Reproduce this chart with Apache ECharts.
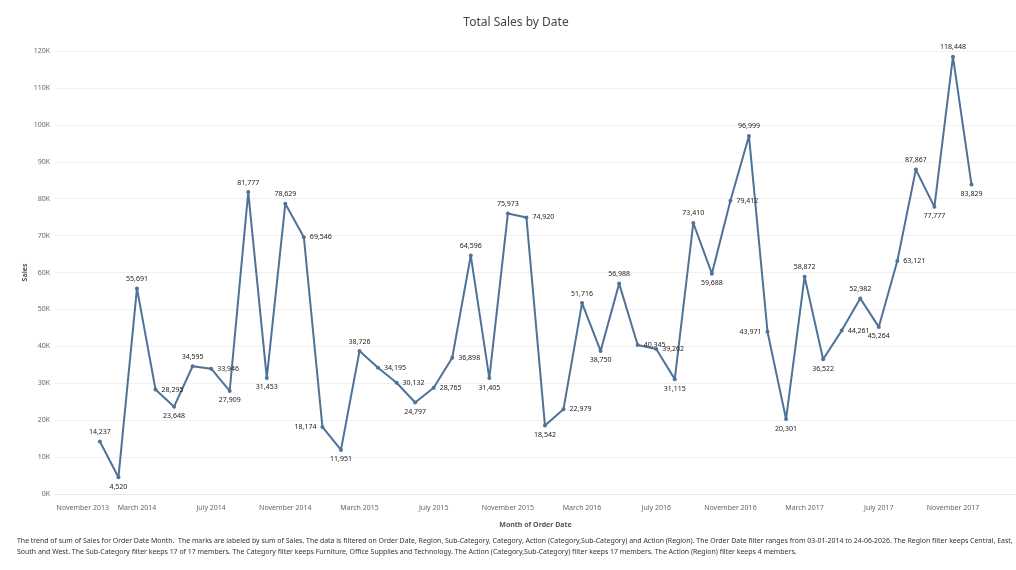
<!DOCTYPE html>
<html>
<head>
<meta charset="utf-8">
<script src="https://cdn.jsdelivr.net/npm/echarts@6/dist/echarts.min.js"></script>
<style>
html,body{margin:0;padding:0;background:#fff;}
#chart{width:1016px;height:570px;}
</style>
</head>
<body>
<div id="chart"></div>
<script>
// Months Jan 2014 .. Dec 2017 (index 0 = January 2014)
const months = [
  'January 2014','February 2014','March 2014','April 2014','May 2014','June 2014','July 2014','August 2014','September 2014','October 2014','November 2014','December 2014',
  'January 2015','February 2015','March 2015','April 2015','May 2015','June 2015','July 2015','August 2015','September 2015','October 2015','November 2015','December 2015',
  'January 2016','February 2016','March 2016','April 2016','May 2016','June 2016','July 2016','August 2016','September 2016','October 2016','November 2016','December 2016',
  'January 2017','February 2017','March 2017','April 2017','May 2017','June 2017','July 2017','August 2017','September 2017','October 2017','November 2017','December 2017'
];
const sales = [
  14237, 4520, 55691, 28295, 23648, 34595, 33946, 27909, 81777, 31453, 78629, 69546,
  18174, 11951, 38726, 34195, 30132, 24797, 28765, 36898, 64596, 31405, 75973, 74920,
  18542, 22979, 51716, 38750, 56988, 40345, 39262, 31115, 73410, 59688, 79412, 96999,
  43971, 20301, 58872, 36522, 44261, 52982, 45264, 63121, 87867, 77777, 118448, 83829
];
// x-axis tick labels (month index relative to January 2014)
const tickIndex = [-2, 2, 6, 10, 14, 18, 22, 26, 30, 34, 38, 42, 46];
const tickLabels = ['November 2013','March 2014','July 2014','November 2014','March 2015','July 2015','November 2015','March 2016','July 2016','November 2016','March 2017','July 2017','November 2017'];

const FONT = 'Noto Sans, Open Sans, sans-serif';
const SMALL = 7;

function labelPos(i) {
  const v = sales[i];
  const p = i > 0 ? sales[i - 1] : null;
  const n = i < sales.length - 1 ? sales[i + 1] : null;
  if ((p === null || v >= p) && (n === null || v >= n)) return 'top';
  if ((p === null || v <= p) && (n === null || v <= n)) return 'bottom';
  // monotone point: left only when the incoming segment is clearly steeper
  const dp = Math.abs(v - p), dn = Math.abs(n - v);
  return (dp > 2 * dn && dn > 5000) ? 'left' : 'right';
}

const seriesData = sales.map((v, i) => ({
  value: [i, v],
  label: { position: labelPos(i) }
}));

const chart = echarts.init(document.getElementById('chart'), null, { renderer: 'canvas' });
chart.setOption({
  animation: false,
  backgroundColor: '#ffffff',
  textStyle: { fontFamily: FONT },
  title: {
    text: 'Total Sales by Date',
    left: 511,
    textAlign: 'center',
    top: 12,
    textStyle: { fontFamily: FONT, fontSize: 12, fontWeight: 'normal', color: '#444' }
  },
  grid: { left: 55, right: 0, top: 51, bottom: 76, containLabel: false },
  xAxis: {
    type: 'value',
    min: -2.42,
    max: 49.4,
    name: 'Month of Order Date',
    nameLocation: 'middle',
    nameGap: 27,
    nameMoveOverlap: false,
    nameTextStyle: { fontFamily: FONT, fontSize: SMALL, fontWeight: 'bold', color: '#555' },
    axisLine: { show: true, onZero: false, lineStyle: { color: '#e6e6e6', width: 1 } },
    axisTick: { show: false },
    splitLine: { show: false },
    axisLabel: {
      customValues: tickIndex,
      margin: 10,
      fontFamily: FONT,
      fontSize: SMALL,
      color: '#666',
      formatter: function (val) {
        const k = tickIndex.indexOf(Math.round(val));
        if (k < 0) return '';
        return k === 0 ? '{first|' + tickLabels[k] + '}' : tickLabels[k];
      },
      rich: { first: { fontFamily: FONT, fontSize: SMALL, color: '#666', padding: [0, 0, 0, 40] } }
    }
  },
  yAxis: {
    type: 'value',
    min: 0,
    max: 120000,
    interval: 10000,
    name: 'Sales',
    nameLocation: 'middle',
    nameGap: 27,
    nameMoveOverlap: false,
    nameRotate: 90,
    nameTextStyle: { fontFamily: FONT, fontSize: SMALL, fontWeight: 'bold', color: '#555' },
    axisLine: { show: false },
    axisTick: { show: false },
    splitLine: { show: true, lineStyle: { color: '#f0f0f0', width: 1 } },
    axisLabel: {
      fontFamily: FONT,
      fontSize: SMALL,
      color: '#666',
      margin: 5,
      formatter: function (v) { return (v / 1000) + 'K'; }
    }
  },
  series: [{
    type: 'line',
    data: seriesData,
    symbol: 'circle',
    symbolSize: 4,
    lineStyle: { color: '#4e7298', width: 2 },
    itemStyle: { color: '#4e7298' },
    label: {
      show: true,
      fontFamily: FONT,
      fontSize: SMALL,
      color: '#222',
      distance: 4,
      formatter: function (p) { return p.value[1].toLocaleString('en-US'); }
    },
    labelLayout: { hideOverlap: false }
  }],
  graphic: [{
    type: 'text',
    left: 17,
    top: 536,
    style: {
      text: 'The trend of sum of Sales for Order Date Month.  The marks are labeled by sum of Sales. The data is filtered on Order Date, Region, Sub-Category, Category, Action (Category,Sub-Category) and Action (Region). The Order Date filter ranges from 03-01-2014 to 24-06-2026. The Region filter keeps Central, East,\nSouth and West. The Sub-Category filter keeps 17 of 17 members. The Category filter keeps Furniture, Office Supplies and Technology. The Action (Category,Sub-Category) filter keeps 17 members. The Action (Region) filter keeps 4 members.',
      font: '6.95px ' + FONT,
      fill: '#333',
      lineHeight: 10.5
    }
  }]
});
</script>
</body>
</html>
